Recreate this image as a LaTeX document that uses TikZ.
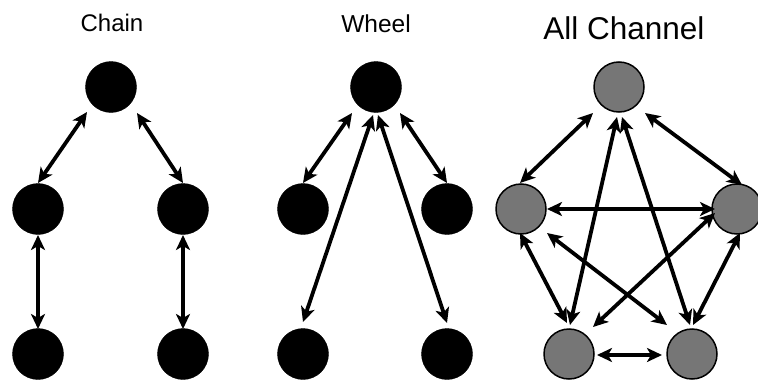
\documentclass[tikz,border=0pt]{standalone}
\usepackage{fontspec}
\setmainfont{Liberation Sans}
\usetikzlibrary{arrows.meta,calc}
\definecolor{stipple}{RGB}{118,118,118}
\tikzset{
  blackdot/.style={circle,fill=black,draw=black,minimum size=51pt,inner sep=0pt},
  graydot/.style={circle,fill=stipple,draw=black,line width=1.5pt,minimum size=50pt,inner sep=0pt},
  link/.style={line width=3.8pt,{Stealth[length=15pt,width=14pt,inset=4pt]}-{Stealth[length=15pt,width=14pt,inset=4pt]}},
  title/.style={anchor=base,inner sep=0pt}
}
\begin{document}
\begin{tikzpicture}[x=1pt,y=-1pt]
\useasboundingbox (0,0) rectangle (758,380);
% titles
\node[title,font=\fontsize{24}{26}\selectfont] (tc) at (112,31) {Chain};
\node[title,font=\fontsize{24.5}{27}\selectfont] (tw) at (376,32) {Wheel};
\node[title,font=\fontsize{31.5}{34}\selectfont] (ta) at (624,39) {All Channel};
% chain
\node[blackdot] (c1) at (111,87) {};
\node[blackdot] (c2) at (38,209) {};
\node[blackdot] (c3) at (183,209) {};
\node[blackdot] (c4) at (38,354) {};
\node[blackdot] (c5) at (183,354) {};
\draw[link] ($(c1)+(-24,25)$) -- ($(c2)+(0,-26)$);
\draw[link] ($(c1)+(26,26)$) -- ($(c3)+(0,-26)$);
\draw[link] ($(c2)+(0,26)$) -- ($(c4)+(0,-25)$);
\draw[link] ($(c3)+(0,26)$) -- ($(c5)+(0,-25)$);
% wheel
\node[blackdot] (w1) at (376,87) {};
\node[blackdot] (w2) at (303,209) {};
\node[blackdot] (w3) at (447,209) {};
\node[blackdot] (w4) at (303,354) {};
\node[blackdot] (w5) at (447,354) {};
\draw[link] ($(w1)+(-24,26)$) -- ($(w2)+(0,-26)$);
\draw[link] ($(w1)+(24,26)$) -- ($(w3)+(0,-26)$);
\draw[link] ($(w1)+(-3,28)$) -- ($(w4)+(0,-32)$);
\draw[link] ($(w1)+(2,28)$) -- ($(w5)+(0,-31)$);
% all channel
\node[graydot] (a1) at (619,87) {};
\node[graydot] (a2) at (521,209) {};
\node[graydot] (a3) at (737,209) {};
\node[graydot] (a4) at (569,354) {};
\node[graydot] (a5) at (692,354) {};
\draw[link] ($(a1)+(-26,26)$) -- ($(a2)+(-1,-26)$);
\draw[link] ($(a1)+(26,26)$) -- ($(a3)+(5,-24)$);
\draw[link] ($(a1)+(-2,30)$) -- ($(a4)+(1,-29)$);
\draw[link] ($(a1)+(3,30)$) -- ($(a5)+(-2,-29)$);
\draw[link] ($(a2)+(26,0)$) -- ($(a3)+(-22,0)$);
\draw[link] ($(a2)+(-1,24)$) -- ($(a4)+(-2,-31)$);
\draw[link] ($(a2)+(26,24)$) -- ($(a5)+(-25,-29)$);
\draw[link] ($(a3)+(-22,4)$) -- ($(a4)+(24,-27)$);
\draw[link] ($(a3)+(3,24)$) -- ($(a5)+(1,-29)$);
\draw[link] ($(a4)+(28,1)$) -- ($(a5)+(-30,1)$);
\end{tikzpicture}
\end{document}
